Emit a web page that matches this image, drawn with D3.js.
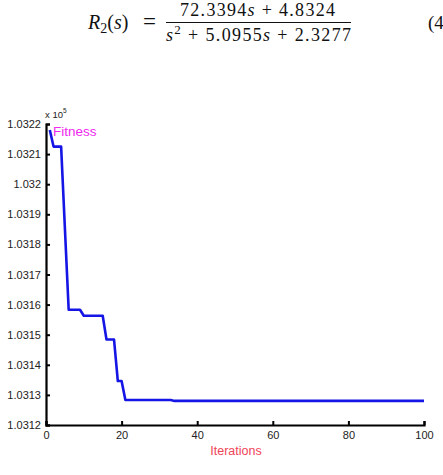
<!DOCTYPE html>
<html>
<head>
<meta charset="utf-8">
<script src="https://cdn.jsdelivr.net/npm/d3@7"></script>
<style>
  body { margin: 0; background: #fff; }
  svg { display: block; }
  .tick text { font-family: "Liberation Sans", Arial, sans-serif; font-size: 11px; fill: #222; }
  .eq { font-family: "Liberation Serif", "DejaVu Serif", serif; fill: #111; }
</style>
</head>
<body>
<div id="chart"></div>
<script>
// iterations where the curve changes slope, fitness in units of 10^5
var iterations = [1, 2, 4, 6, 9, 10, 15, 16, 18, 19, 20, 21, 33, 34, 100];
var fitness = [1.03218, 1.032125, 1.032125, 1.031583, 1.031583, 1.031563, 1.031563,
               1.031484, 1.031484, 1.031346, 1.031346, 1.031283, 1.031283, 1.03128, 1.03128];
var xTicks = [0, 20, 40, 60, 80, 100];
var yTicks = [1.0312, 1.0313, 1.0314, 1.0315, 1.0316, 1.0317, 1.0318, 1.0319, 1.032, 1.0321, 1.0322];
var yTickLabels = ["1.0312", "1.0313", "1.0314", "1.0315", "1.0316", "1.0317", "1.0318", "1.0319", "1.032", "1.0321", "1.0322"];

var width = 443, height = 475;
var svg = d3.select("#chart").append("svg")
	.attr("width", width)
	.attr("height", height);

// equation above the figure
var eq = svg.append("g").attr("class", "eq");
var lhs = eq.append("text").attr("x", 88).attr("y", 29).attr("font-size", 20);
lhs.append("tspan").attr("font-style", "italic").text("R");
lhs.append("tspan").attr("font-size", 14).attr("dy", 4).text("2");
lhs.append("tspan").attr("dy", -4).text("(");
lhs.append("tspan").attr("font-style", "italic").text("s");
lhs.append("tspan").text(")");
eq.append("text").attr("x", 143).attr("y", 29).attr("font-size", 23).text("=");

var num = eq.append("text").attr("x", 180).attr("y", 16).attr("font-size", 18)
	.attr("textLength", 155).attr("lengthAdjust", "spacing");
num.append("tspan").text("72.3394");
num.append("tspan").attr("font-style", "italic").text("s");
num.append("tspan").text(" + 4.8324");

eq.append("line")
	.attr("x1", 166).attr("x2", 351)
	.attr("y1", 22.5).attr("y2", 22.5)
	.attr("stroke", "#111").attr("stroke-width", 1.2);

var den = eq.append("text").attr("x", 166).attr("y", 41).attr("font-size", 18)
	.attr("textLength", 185).attr("lengthAdjust", "spacing");
den.append("tspan").attr("font-style", "italic").text("s");
den.append("tspan").attr("font-size", 13).attr("dy", -7).text("2");
den.append("tspan").attr("dy", 7).text(" + 5.0955");
den.append("tspan").attr("font-style", "italic").text("s");
den.append("tspan").text(" + 2.3277");

eq.append("text").attr("x", 428).attr("y", 29).attr("font-size", 19).text("(4");

// plot
var x = d3.scaleLinear().domain([0, 100]).range([46, 424]);
var y = d3.scaleLinear().domain([1.0312, 1.0322]).range([425, 124]);

var xAxis = svg.append("g")
	.attr("transform", "translate(0," + y(1.0312) + ")")
	.call(d3.axisBottom(x).tickValues(xTicks).tickSize(-4).tickPadding(6).tickFormat(d3.format("d")));
var yAxis = svg.append("g")
	.attr("transform", "translate(" + x(0) + ",0)")
	.call(d3.axisLeft(y).tickValues(yTicks).tickSize(-4).tickPadding(5)
		.tickFormat(function(d, i) { return yTickLabels[i]; }));

[xAxis, yAxis].forEach(function(a) {
	a.select(".domain").attr("stroke", "#000").attr("stroke-width", 2.2);
	a.selectAll(".tick line").attr("stroke", "#000").attr("stroke-width", 2);
});

var line = d3.line()
	.x(function(d, i) { return x(iterations[i]); })
	.y(function(d) { return y(d); });

svg.append("path")
	.datum(fitness)
	.attr("fill", "none")
	.attr("stroke", "#1515e6")
	.attr("stroke-width", 2.6)
	.attr("stroke-linejoin", "round")
	.attr("d", line);

// labels
var exp = svg.append("text")
	.attr("x", 45).attr("y", 118)
	.attr("font-family", "Liberation Sans, Arial, sans-serif")
	.attr("font-size", 9.5).attr("fill", "#222");
exp.append("tspan").text("x 10");
exp.append("tspan").attr("font-size", 6.5).attr("dy", -5).text("5");

svg.append("text")
	.attr("x", 53).attr("y", 136)
	.attr("font-family", "Liberation Sans, Arial, sans-serif")
	.attr("font-size", 13.5).attr("fill", "#f028f0")
	.text("Fitness");

svg.append("text")
	.attr("x", 236).attr("y", 455)
	.attr("text-anchor", "middle")
	.attr("font-family", "Liberation Sans, Arial, sans-serif")
	.attr("font-size", 12.5).attr("fill", "#f04458")
	.text("Iterations");
</script>
</body>
</html>
